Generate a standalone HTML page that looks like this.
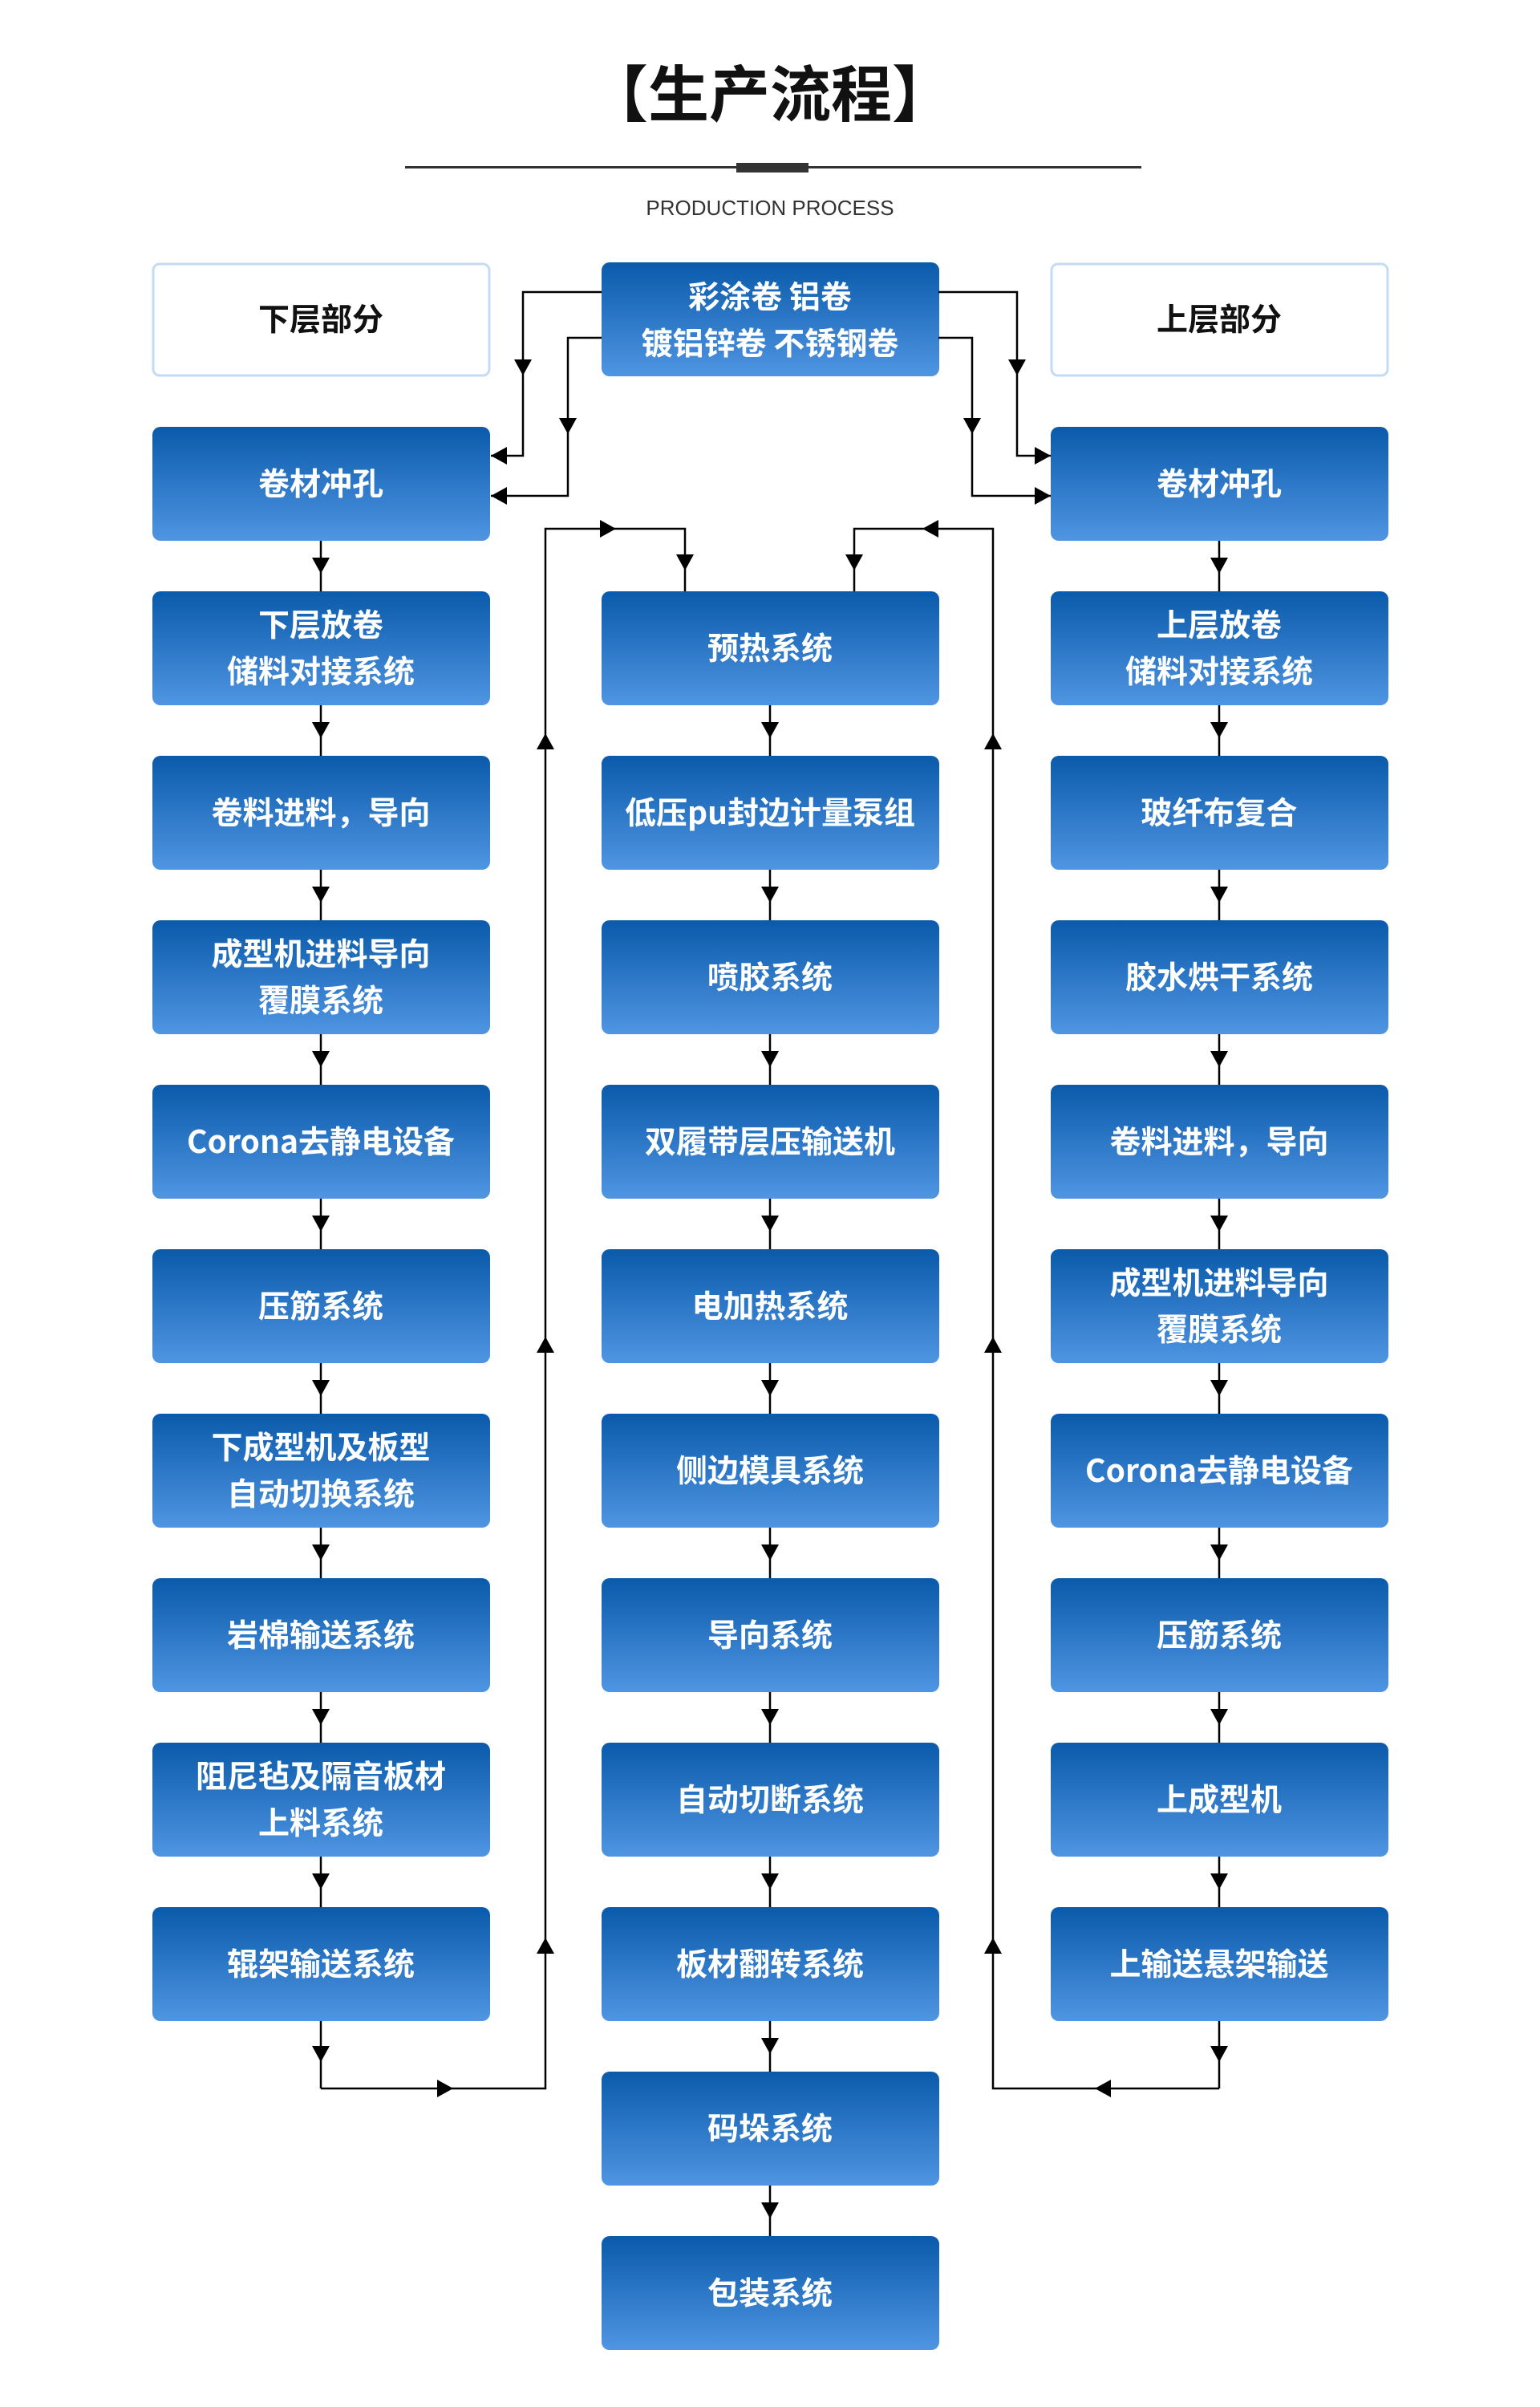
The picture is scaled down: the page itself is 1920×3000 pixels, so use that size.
<!DOCTYPE html>
<html><head><meta charset="utf-8">
<style>
html,body{margin:0;padding:0;background:#fff;}
svg{display:block;}
text{font-family:"Liberation Sans","Noto Sans CJK SC",sans-serif;}
.t{fill:#fff;font-weight:bold;font-size:39px;text-anchor:middle;font-family:"Noto Sans CJK SC","Liberation Sans",sans-serif;}
.h{fill:#111;font-weight:bold;font-size:39px;text-anchor:middle;font-family:"Noto Sans CJK SC",sans-serif;}
.l{stroke:#000;stroke-width:2.5;fill:none;}
</style></head>
<body>
<svg width="1920" height="3000" viewBox="0 0 1920 3000" xmlns="http://www.w3.org/2000/svg">
<defs>
<linearGradient id="g" x1="0" y1="0" x2="0" y2="1">
<stop offset="0" stop-color="#0a5aab"/><stop offset="1" stop-color="#4f95e2"/>
</linearGradient>
<g id="b"><rect x="0" y="0" width="421" height="142" rx="10" fill="url(#g)"/></g>
<polygon id="ad" points="-11,-10 11,-10 0,10" fill="#000"/>
<polygon id="au" points="-11,10 11,10 0,-10" fill="#000"/>
<polygon id="ar" points="-10,-11 -10,11 10,0" fill="#000"/>
<polygon id="al" points="10,-11 10,11 -10,0" fill="#000"/>
</defs>

<text x="960" y="145" text-anchor="middle" font-size="76" font-weight="bold" fill="#111" style="font-family:'Noto Sans CJK SC',sans-serif">【生产流程】</text>
<rect x="505" y="207" width="918" height="3" fill="#333"/>
<rect x="918" y="203" width="90" height="12" fill="#333"/>
<text x="960" y="268" text-anchor="middle" font-size="26" fill="#333">PRODUCTION PROCESS</text>

<!-- header boxes -->
<rect x="191" y="329" width="419" height="139" rx="8" fill="#fff" stroke="#c3dbf3" stroke-width="3"/>
<text class="h" x="400" y="412">下层部分</text>
<rect x="1311" y="329" width="419" height="139" rx="8" fill="#fff" stroke="#c3dbf3" stroke-width="3"/>
<text class="h" x="1520" y="412">上层部分</text>
<use href="#b" x="750" y="327"/>
<text class="t" x="960" y="384">彩涂卷 铝卷</text>
<text class="t" x="960" y="442">镀铝锌卷 不锈钢卷</text>

<!-- top connectors -->
<polyline class="l" points="750,364 652,364 652,568 612,568"/>
<polyline class="l" points="750,421 708,421 708,618 612,618"/>
<use href="#ad" x="652" y="458"/><use href="#ad" x="708" y="531"/>
<use href="#al" x="622" y="568"/><use href="#al" x="622" y="618"/>
<polyline class="l" points="1170,364 1268,364 1268,568 1310,568"/>
<polyline class="l" points="1170,421 1212,421 1212,618 1310,618"/>
<use href="#ad" x="1268" y="458"/><use href="#ad" x="1212" y="531"/>
<use href="#ar" x="1300" y="568"/><use href="#ar" x="1300" y="618"/>

<!-- vertical column lines -->
<line class="l" x1="400" y1="674" x2="400" y2="2603"/>
<line class="l" x1="1520" y1="674" x2="1520" y2="2603"/>
<line class="l" x1="960" y1="879" x2="960" y2="2787"/>

<!-- loops -->
<polyline class="l" points="400,2603 680,2603 680,659 854,659 854,737"/>
<polyline class="l" points="1520,2603 1238,2603 1238,659 1065,659 1065,737"/>
<use href="#ar" x="555" y="2603"/><use href="#al" x="1375" y="2603"/>
<use href="#ad" x="400" y="2560"/><use href="#ad" x="1520" y="2560"/>
<use href="#au" x="680" y="924"/><use href="#au" x="680" y="1676"/><use href="#au" x="680" y="2425"/>
<use href="#au" x="1238" y="924"/><use href="#au" x="1238" y="1676"/><use href="#au" x="1238" y="2425"/>
<use href="#ar" x="758" y="659"/><use href="#al" x="1160" y="659"/>
<use href="#ad" x="854" y="701"/><use href="#ad" x="1065" y="701"/>

<!-- side column arrows -->
<use href="#ad" x="400" y="705"/><use href="#ad" x="400" y="910"/><use href="#ad" x="400" y="1115"/><use href="#ad" x="400" y="1320"/><use href="#ad" x="400" y="1525"/><use href="#ad" x="400" y="1730"/><use href="#ad" x="400" y="1935"/><use href="#ad" x="400" y="2140"/><use href="#ad" x="400" y="2345"/>
<use href="#ad" x="1520" y="705"/><use href="#ad" x="1520" y="910"/><use href="#ad" x="1520" y="1115"/><use href="#ad" x="1520" y="1320"/><use href="#ad" x="1520" y="1525"/><use href="#ad" x="1520" y="1730"/><use href="#ad" x="1520" y="1935"/><use href="#ad" x="1520" y="2140"/><use href="#ad" x="1520" y="2345"/>
<use href="#ad" x="960" y="910"/><use href="#ad" x="960" y="1115"/><use href="#ad" x="960" y="1320"/><use href="#ad" x="960" y="1525"/><use href="#ad" x="960" y="1730"/><use href="#ad" x="960" y="1935"/><use href="#ad" x="960" y="2140"/><use href="#ad" x="960" y="2345"/><use href="#ad" x="960" y="2550"/><use href="#ad" x="960" y="2755"/>

<!-- left column -->
<use href="#b" x="190" y="532"/><text class="t" x="400" y="617">卷材冲孔</text>
<use href="#b" x="190" y="737"/><text class="t" x="400" y="793">下层放卷</text><text class="t" x="400" y="851">储料对接系统</text>
<use href="#b" x="190" y="942"/><text class="t" x="400" y="1027">卷料进料，导向</text>
<use href="#b" x="190" y="1147"/><text class="t" x="400" y="1203">成型机进料导向</text><text class="t" x="400" y="1261">覆膜系统</text>
<use href="#b" x="190" y="1352"/><text class="t" x="400" y="1437">Corona去静电设备</text>
<use href="#b" x="190" y="1557"/><text class="t" x="400" y="1642">压筋系统</text>
<use href="#b" x="190" y="1762"/><text class="t" x="400" y="1818">下成型机及板型</text><text class="t" x="400" y="1876">自动切换系统</text>
<use href="#b" x="190" y="1967"/><text class="t" x="400" y="2052">岩棉输送系统</text>
<use href="#b" x="190" y="2172"/><text class="t" x="400" y="2228">阻尼毡及隔音板材</text><text class="t" x="400" y="2286">上料系统</text>
<use href="#b" x="190" y="2377"/><text class="t" x="400" y="2462">辊架输送系统</text>

<!-- center column -->
<use href="#b" x="750" y="737"/><text class="t" x="960" y="822">预热系统</text>
<use href="#b" x="750" y="942"/><text class="t" x="960" y="1027">低压pu封边计量泵组</text>
<use href="#b" x="750" y="1147"/><text class="t" x="960" y="1232">喷胶系统</text>
<use href="#b" x="750" y="1352"/><text class="t" x="960" y="1437">双履带层压输送机</text>
<use href="#b" x="750" y="1557"/><text class="t" x="960" y="1642">电加热系统</text>
<use href="#b" x="750" y="1762"/><text class="t" x="960" y="1847">侧边模具系统</text>
<use href="#b" x="750" y="1967"/><text class="t" x="960" y="2052">导向系统</text>
<use href="#b" x="750" y="2172"/><text class="t" x="960" y="2257">自动切断系统</text>
<use href="#b" x="750" y="2377"/><text class="t" x="960" y="2462">板材翻转系统</text>
<use href="#b" x="750" y="2582"/><text class="t" x="960" y="2667">码垛系统</text>
<use href="#b" x="750" y="2787"/><text class="t" x="960" y="2872">包装系统</text>

<!-- right column -->
<use href="#b" x="1310" y="532"/><text class="t" x="1520" y="617">卷材冲孔</text>
<use href="#b" x="1310" y="737"/><text class="t" x="1520" y="793">上层放卷</text><text class="t" x="1520" y="851">储料对接系统</text>
<use href="#b" x="1310" y="942"/><text class="t" x="1520" y="1027">玻纤布复合</text>
<use href="#b" x="1310" y="1147"/><text class="t" x="1520" y="1232">胶水烘干系统</text>
<use href="#b" x="1310" y="1352"/><text class="t" x="1520" y="1437">卷料进料，导向</text>
<use href="#b" x="1310" y="1557"/><text class="t" x="1520" y="1613">成型机进料导向</text><text class="t" x="1520" y="1671">覆膜系统</text>
<use href="#b" x="1310" y="1762"/><text class="t" x="1520" y="1847">Corona去静电设备</text>
<use href="#b" x="1310" y="1967"/><text class="t" x="1520" y="2052">压筋系统</text>
<use href="#b" x="1310" y="2172"/><text class="t" x="1520" y="2257">上成型机</text>
<use href="#b" x="1310" y="2377"/><text class="t" x="1520" y="2462">上输送悬架输送</text>
</svg>
</body></html>
